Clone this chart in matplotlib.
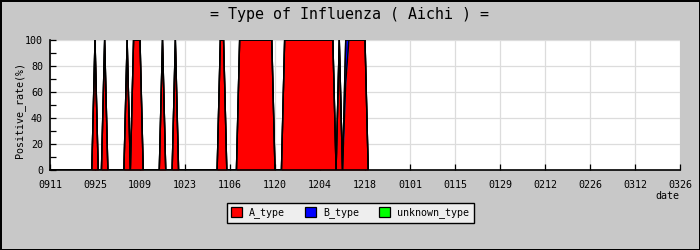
import numpy as np
from matplotlib import pyplot as plt
from matplotlib.patches import Patch
from matplotlib.ticker import MultipleLocator, NullFormatter

# Tick labels, one every 14 days starting 0911
date_labels = ["0911", "0925", "1009", "1023", "1106", "1120", "1204", "1218",
               "0101", "0115", "0129", "0212", "0226", "0312", "0326"]

# Daily positive rate (%), day 0 = 0911 ... day 99 = 1219
a_type = [
    0, 0, 0, 0, 0, 0, 0, 0, 0, 0, 0, 0, 0, 0,                                # 0911-0924
    100, 0, 0, 100, 0, 0, 0, 0, 0, 0, 100, 0, 100, 100,                      # 0925-1008
    100, 0, 0, 0, 0, 0, 0, 100, 0, 0, 0, 100, 0, 0,                          # 1009-1022
    0, 0, 0, 0, 0, 0, 0, 0, 0, 0, 0, 100, 100, 0,                            # 1023-1105
    0, 0, 0, 100, 100, 100, 100, 100, 100, 100, 100, 100, 100, 100,          # 1106-1119
    0, 0, 0, 100, 100, 100, 100, 100, 100, 100, 100, 100, 100, 100,          # 1120-1203
    100, 100, 100, 100, 100, 0, 100, 0, 67, 100, 100, 100, 100, 100,         # 1204-1217
    100, 0,                                                                  # 1218-1219
]
b_type = [0] * 92 + [33] + [0] * 7
unknown_type = [0] * 100

series_names = ["A_type", "B_type", "unknown_type"]
series_colors = ["#ff0000", "#0000ff", "#00ff00"]


def main():
    plt.rcParams['font.family'] = ['DejaVu Sans Mono']
    bg = "#c8c8c8"

    fig = plt.figure(figsize=(7, 2.5), dpi=100, facecolor=bg)
    ax = fig.add_axes([50 / 700, 80 / 250, 630 / 700, 130 / 250])
    ax.set_facecolor("white")

    days = np.arange(len(a_type))
    layers = [np.array(a_type), np.array(b_type), np.array(unknown_type)]

    # Stacked areas with black outlines
    bottom = np.zeros(len(days))
    for vals, col in zip(layers, series_colors):
        top = bottom + vals
        ax.fill_between(days, bottom, top, color=col, linewidth=0, zorder=2)
        bottom = top
    bottom = np.zeros(len(days))
    for vals in layers:
        bottom = bottom + vals
        ax.plot(days, bottom, color="black", linewidth=1.0, zorder=3)

    ax.set_xlim(0, 196)
    ax.set_ylim(0, 100)
    ax.set_xticks(np.arange(0, 197, 14))
    ax.set_xticklabels(date_labels)
    ax.yaxis.set_major_locator(MultipleLocator(20))
    ax.yaxis.set_minor_locator(MultipleLocator(10))
    ax.yaxis.set_minor_formatter(NullFormatter())

    ax.grid(True, which="major", color="#dcdcdc", linewidth=0.9)
    ax.set_axisbelow(True)
    for s in ["top", "right"]:
        ax.spines[s].set_visible(False)
    for s in ["left", "bottom"]:
        ax.spines[s].set_linewidth(1.2)
        ax.spines[s].set_zorder(4)

    ax.tick_params(axis="both", which="both", direction="in", labelsize=7.2,
                   width=0.9, colors="black")
    ax.tick_params(axis="both", which="major", length=4)
    ax.tick_params(axis="y", which="minor", length=4)
    ax.tick_params(axis="x", pad=7)
    ax.tick_params(axis="y", pad=5)

    fig.text(0.5, 1 - 14 / 250, "= Type of Influenza ( Aichi ) =",
             ha="center", va="center", fontsize=10.8)
    fig.text(19.5 / 700, 1 - 110 / 250, "Positive_rate(%)", rotation=90,
             ha="center", va="center", fontsize=7.2)
    fig.text(679 / 700, 1 - 196 / 250, "date", ha="right", va="center",
             fontsize=7.2)

    handles = [Patch(facecolor=c, edgecolor="black", linewidth=0.9)
               for c in series_colors]
    leg = fig.legend(handles, series_names, loc="center", ncol=3,
                     bbox_to_anchor=(350 / 700, 1 - 212.8 / 250),
                     fontsize=7.2, handlelength=1.05, handleheight=1.05,
                     handletextpad=0.75, columnspacing=2.0, borderpad=0.45,
                     fancybox=False, frameon=True)
    leg.get_frame().set_facecolor("#eeeeee")
    leg.get_frame().set_edgecolor("black")
    leg.get_frame().set_linewidth(1.0)
    leg.get_frame().set_alpha(1)

    fig.patch.set_edgecolor("black")
    fig.patch.set_linewidth(2)
    fig.savefig("out.png", dpi=100, facecolor=bg, edgecolor="black")


if __name__ == "__main__":
    main()
